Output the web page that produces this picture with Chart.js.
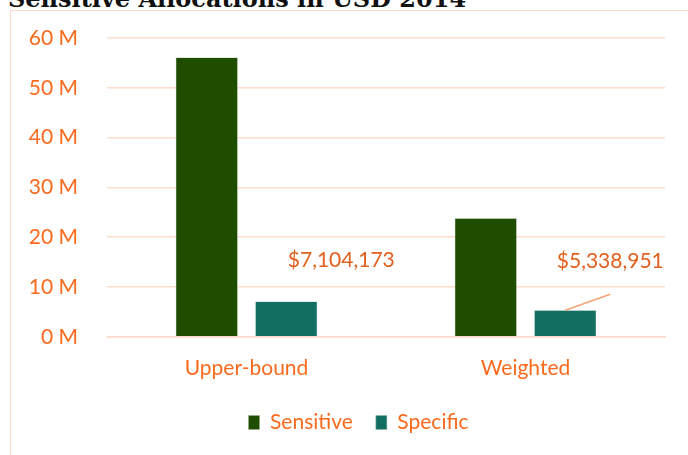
<!DOCTYPE html>
<html>
<head>
<meta charset="utf-8">
<script src="https://cdn.jsdelivr.net/npm/chart.js@4.4.0/dist/chart.umd.min.js"></script>
<style>
  html,body{margin:0;padding:0;background:#fff;overflow:hidden;}
  #wrap{position:relative;width:688px;height:455px;}
  #frame{position:absolute;left:10px;top:10px;width:720px;height:480px;border:1.5px solid #FCDCCB;box-sizing:border-box;}
  #title{position:absolute;left:8px;top:-16px;font:bold 24px "DejaVu Serif",serif;color:#111;white-space:nowrap;}
  canvas{position:absolute;left:0;top:0;}
</style>
</head>
<body>
<div id="wrap">
  <div id="frame"></div>
  <div id="title">Sensitive Allocations in USD 2014</div>
  <canvas id="chart" width="688" height="455"></canvas>
</div>
<script>
const categories = ['Upper-bound', 'Weighted'];
const sensitive = [56100000, 23800000];
const specific = [7104173, 5338951];
const yTicks = [0, 10000000, 20000000, 30000000, 40000000, 50000000, 60000000];

const orange = '#FA6A1C';
const labelOrange = '#E2601E';
const grid = '#FCDCCB';

// labels for the Specific bars, placed off the bar like the original
const labelPlugin = {
  id: 'specLabels',
  afterLayout(chart){
    // legend sits a bit right of centre in the original
    chart.legend.left += 16;
    chart.legend.right += 16;
  },
  afterDatasetsDraw(chart){
    const ctx = chart.ctx;
    const meta = chart.getDatasetMeta(1);
    const offs = [{dx:55, dy:-41, line:false}, {dx:45, dy:-49, line:true}];
    ctx.save();
    ctx.font = '21px Lato';
    ctx.fillStyle = labelOrange;
    ctx.textAlign = 'center';
    ctx.textBaseline = 'middle';
    meta.data.forEach((bar, i) => {
      const o = offs[i];
      const txt = '$' + specific[i].toLocaleString('en-US');
      if (o.line){
        ctx.strokeStyle = '#F5A274';
        ctx.lineWidth = 1.5;
        ctx.beginPath();
        ctx.moveTo(bar.x, bar.y);
        ctx.lineTo(bar.x + o.dx, bar.y - 16);
        ctx.stroke();
      }
      ctx.fillText(txt, bar.x + o.dx, bar.y + o.dy);
    });
    ctx.restore();
  }
};

new Chart(document.getElementById('chart'), {
  type: 'bar',
  data: {
    labels: categories,
    datasets: [
      { label: 'Sensitive', data: sensitive, backgroundColor: '#1E4D00', borderColor: '#9AA88F', borderWidth: 0.5 },
      { label: 'Specific', data: specific, backgroundColor: '#116E60', borderColor: '#8FB3AB', borderWidth: 0.5 }
    ]
  },
  options: {
    responsive: false,
    animation: false,
    layout: { padding: { left: 20, right: 23, top: 38, bottom: 12 } },
    datasets: { bar: { categoryPercentage: 0.57, barPercentage: 0.78 } },
    scales: {
      x: {
        afterFit(s){ s.height -= 3; },
        grid: { display: false },
        border: { color: grid, width: 1.5 },
        ticks: { color: orange, font: { family: 'Lato', size: 21 }, padding: 11 }
      },
      y: {
        min: 0, max: 60000000,
        afterFit(s){ s.width = 87; s.paddingTop = 0; },
        afterBuildTicks(s){ s.ticks = yTicks.map(v => ({ value: v })); },
        grid: { color: grid, lineWidth: 1.5, drawTicks: false },
        border: { display: false },
        ticks: { color: orange, font: { family: 'Lato', size: 21 }, padding: 29,
          callback: v => (v / 1000000) + ' M' }
      }
    },
    plugins: {
      legend: {
        position: 'bottom',
        labels: { color: orange, font: { family: 'Lato', size: 21 }, boxWidth: 11, boxHeight: 14, padding: 23 }
      },
      tooltip: { enabled: false }
    }
  },
  plugins: [labelPlugin]
});
</script>
</body>
</html>
